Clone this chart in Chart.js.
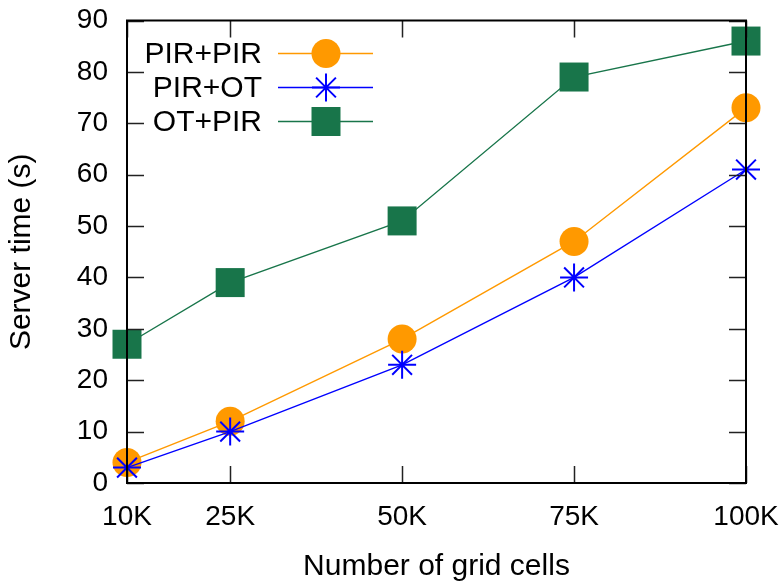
<!DOCTYPE html>
<html>
<head>
<meta charset="utf-8">
<script src="https://cdn.jsdelivr.net/npm/chart.js@4/dist/chart.umd.min.js"></script>
<style>
  html, body { margin: 0; padding: 0; background: #fff; }
  #wrap { width: 784px; height: 588px; }
</style>
</head>
<body>
<div id="wrap"><canvas id="c" width="784" height="588"></canvas></div>
<script>
// Grid sizes (thousands of cells) and server times in seconds
const gridCells = [10, 25, 50, 75, 100];
const pirPir = [4, 12, 28, 47, 73];
const pirOt  = [3, 10, 23, 40, 61];
const otPir  = [27, 39, 51, 79, 86];
const xTicks = [10, 25, 50, 75, 100];
const yTicks = [0, 10, 20, 30, 40, 50, 60, 70, 80, 90];

const FONT = "'Liberation Sans', Arial, sans-serif";

function toPoints(vals) {
  return gridCells.map((x, i) => ({ x: x, y: vals[i] }));
}

// Frame around the plot area plus inward ticks on all four sides
const framePlugin = {
  id: 'frame',
  afterDatasetsDraw(chart) {
    const { ctx, chartArea: a, scales } = chart;
    const tl = 17;
    ctx.save();
    ctx.strokeStyle = '#222';
    ctx.lineWidth = 1.5;
    ctx.beginPath();
    xTicks.forEach(v => {
      const px = Math.round(scales.x.getPixelForValue(v)) + 0.5;
      ctx.moveTo(px, a.bottom); ctx.lineTo(px, a.bottom - tl);
      ctx.moveTo(px, a.top); ctx.lineTo(px, a.top + tl);
    });
    yTicks.forEach(v => {
      const py = Math.round(scales.y.getPixelForValue(v)) + 0.5;
      ctx.moveTo(a.left, py); ctx.lineTo(a.left + tl, py);
      ctx.moveTo(a.right, py); ctx.lineTo(a.right - tl, py);
    });
    ctx.stroke();
    ctx.strokeStyle = '#000';
    ctx.lineWidth = 2;
    ctx.strokeRect(a.left, a.top, a.right - a.left, a.bottom - a.top);
    ctx.restore();
  },
  afterDraw(chart) {
    // key: right-aligned labels followed by a line sample with its marker
    const { ctx, chartArea: a } = chart;
    ctx.save();
    ctx.font = '30px ' + FONT;
    ctx.textAlign = 'right';
    ctx.textBaseline = 'middle';
    chart.data.datasets.forEach((ds, i) => {
      const y = a.top + 33 + i * 34;
      const textX = a.left + 135;
      const x0 = a.left + 151, x1 = a.left + 246, mx = a.left + 199;
      ctx.fillStyle = '#000';
      ctx.fillText(ds.label, textX, y + 1);
      ctx.strokeStyle = ds.borderColor;
      ctx.lineWidth = ds.borderWidth;
      ctx.beginPath(); ctx.moveTo(x0, y); ctx.lineTo(x1, y); ctx.stroke();
      ctx.fillStyle = ds.pointBackgroundColor;
      ctx.strokeStyle = ds.pointBorderColor;
      ctx.lineWidth = ds.pointBorderWidth;
      Chart.helpers.drawPoint(ctx, {
        pointStyle: ds.pointStyle, radius: ds.pointRadius,
        borderWidth: ds.pointBorderWidth, rotation: 0
      }, mx, y);
    });
    ctx.restore();
  }
};

new Chart(document.getElementById('c'), {
  type: 'line',
  data: {
    datasets: [
      {
        label: 'PIR+PIR', data: toPoints(pirPir), order: 3,
        borderColor: '#FF9900', borderWidth: 1.4,
        pointStyle: 'circle', pointRadius: 14.5,
        pointBackgroundColor: '#FF9900', pointBorderColor: '#FF9900', pointBorderWidth: 0,
        clip: false
      },
      {
        label: 'PIR+OT', data: toPoints(pirOt), order: 2,
        borderColor: '#0000FF', borderWidth: 1.4,
        pointStyle: 'star', pointRadius: 14,
        pointBackgroundColor: '#0000FF', pointBorderColor: '#0000FF', pointBorderWidth: 2,
        clip: false
      },
      {
        label: 'OT+PIR', data: toPoints(otPir), order: 1,
        borderColor: '#18754A', borderWidth: 1.4,
        pointStyle: 'rect', pointRadius: 20.5,
        pointBackgroundColor: '#18754A', pointBorderColor: '#18754A', pointBorderWidth: 0,
        clip: false
      }
    ]
  },
  options: {
    responsive: false,
    animation: false,
    events: [],
    layout: { padding: { top: 20, right: 38, left: 0, bottom: 0 } },
    plugins: { legend: { display: false }, tooltip: { enabled: false } },
    elements: { line: { tension: 0 } },
    scales: {
      x: {
        type: 'linear', min: 10, max: 100,
        afterBuildTicks: s => { s.ticks = xTicks.map(v => ({ value: v })); },
        afterFit: s => { s.height = 105; s.paddingLeft = 0; s.paddingRight = 0; },
        grid: { display: false, drawTicks: false },
        border: { display: false },
        ticks: {
          padding: 17, color: '#000',
          font: { family: FONT, size: 28 },
          callback: v => v + 'K', maxRotation: 0, autoSkip: false
        },
        title: {
          display: true, text: 'Number of grid cells', color: '#000',
          font: { family: FONT, size: 30 },
          padding: { top: 0, bottom: 3 }
        }
      },
      y: {
        min: 0, max: 90,
        afterBuildTicks: s => { s.ticks = yTicks.map(v => ({ value: v })); },
        afterFit: s => { s.width = 127; s.paddingTop = 0; s.paddingBottom = 0; },
        grid: { display: false, drawTicks: false },
        border: { display: false },
        ticks: {
          padding: 19, color: '#000',
          font: { family: FONT, size: 28 }
        },
        title: {
          display: true, text: 'Server time (s)', color: '#000',
          font: { family: FONT, size: 30 },
          padding: { top: 4, bottom: 0 }
        }
      }
    }
  },
  plugins: [framePlugin]
});
</script>
</body>
</html>
